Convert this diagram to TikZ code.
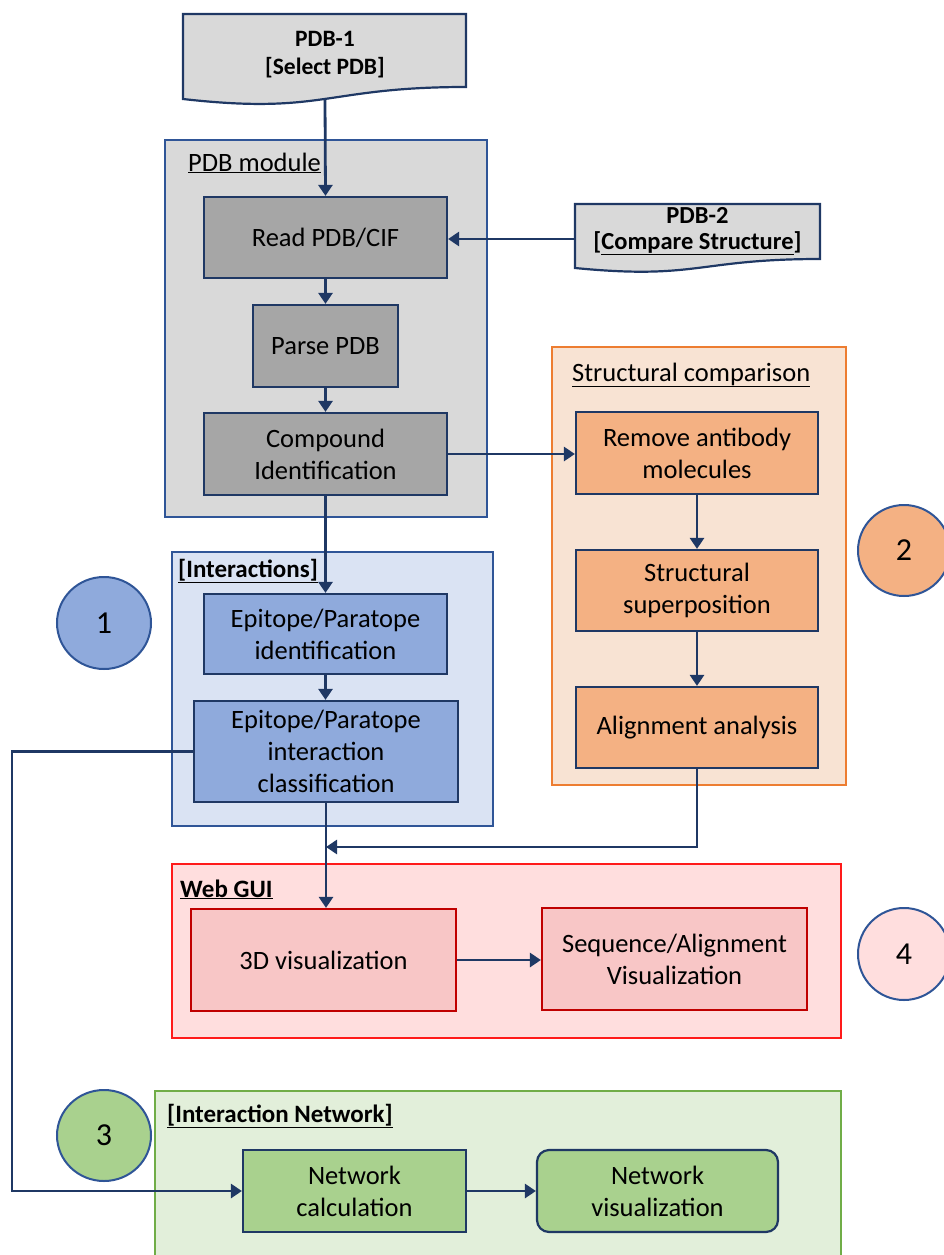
\documentclass[tikz,border=0pt]{standalone}
\usepackage{fontspec}
\setmainfont{Carlito}
\usetikzlibrary{arrows.meta,shapes.geometric}
\definecolor{navy}{HTML}{1F3864}
\definecolor{blueb}{HTML}{2F5597}
\definecolor{grayL}{HTML}{D9D9D9}
\definecolor{grayD}{HTML}{A6A6A6}
\definecolor{orgL}{HTML}{F8E3D3}
\definecolor{orgD}{HTML}{F4B183}
\definecolor{orgB}{HTML}{ED7D31}
\definecolor{bluL}{HTML}{DAE3F3}
\definecolor{bluD}{HTML}{8FAADC}
\definecolor{pnkL}{HTML}{FFDEDE}
\definecolor{pnkD}{HTML}{F8C6C6}
\definecolor{redB}{HTML}{FF1A1A}
\definecolor{redD}{HTML}{C00000}
\definecolor{grnL}{HTML}{E2EFDA}
\definecolor{grnD}{HTML}{A9D18E}
\definecolor{grnB}{HTML}{70AD47}
\newcommand\bodyfs{\fontsize{26.5}{32}\selectfont}
\newcommand\docfs{\fontsize{23.5}{28}\selectfont\bfseries}
\newcommand\docfsb{\fontsize{24.5}{26}\selectfont\bfseries}
\newcommand\numfs{\fontsize{32}{36}\selectfont}
\tikzset{
  conn/.style={draw=navy, line width=2.8pt, -{Triangle[length=11pt,width=14pt]}},
  proc/.style={draw=navy, line width=2.2pt, inner sep=0pt, align=center, font=\bodyfs},
  grp/.style={line width=2.2pt, inner sep=0pt},
  glbl/.style={anchor=base west, inner sep=0pt, font=\bodyfs},
  glblb/.style={anchor=base west, inner sep=0pt, font=\fontsize{25}{30}\selectfont\bfseries},
  num/.style={ellipse, draw=blueb, line width=2pt, inner sep=0pt, font=\numfs},
  doc/.style={draw=navy, line width=2.2pt, fill=grayL},
  doctext/.style={align=center, inner sep=0pt}
}
\begin{document}
\begin{tikzpicture}[x=1pt,y=-1pt]
\useasboundingbox (0,0) rectangle (944,1255);

% group boxes
\node[grp, draw=blueb, fill=grayL, minimum width=322, minimum height=377] (pdbmod) at (326,328.5) {};
\node[grp, draw=orgB, fill=orgL, minimum width=294, minimum height=438] (strc) at (699,566) {};
\node[grp, draw=blueb, fill=bluL, minimum width=321, minimum height=274] (inter) at (332.5,689) {};
\node[grp, draw=redB, fill=pnkL, minimum width=669, minimum height=174] (webgui) at (506.5,951) {};
\node[grp, draw=grnB, fill=grnL, minimum width=686, minimum height=179] (netw) at (498,1180.5) {};

% group labels
\node[glbl] (lpdb) at (188,171) {\underline{PDB module}};
\node[glbl] (lstr) at (572,381) {\underline{Structural comparison}};
\node[glblb] (lint) at (178,577) {\underline{[Interactions]}};
\node[glblb] (lweb) at (180,897) {\underline{Web GUI}};
\node[glblb] (lnet) at (167,1122) {\underline{[Interaction Network]}};

% documents
\draw[doc] (183,14) -- (466,14) -- (466,87) .. controls (324.5,87) and (324.5,115) .. (183,99) -- cycle;
\node[doctext, font=\docfs] (pdb1) at (325,55) {PDB-1\\{}[Select PDB]};
\coordinate (pdb1b) at (325,99);
\draw[doc] (575,204) -- (820,204) -- (820,259) .. controls (697.5,259) and (697.5,280) .. (575,268) -- cycle;
\node[doctext, font=\docfsb] (pdb2) at (697.5,231) {PDB-2\\{}[\underline{Compare Structure}]};
\coordinate (pdb2l) at (575,239);

% process boxes
\node[proc, fill=grayD, minimum width=243, minimum height=81] (read) at (325.5,237.5) {Read PDB/CIF};
\node[proc, fill=grayD, minimum width=145, minimum height=82] (parse) at (325.5,346) {Parse PDB};
\node[proc, fill=grayD, minimum width=243, minimum height=82] (comp) at (325.5,454) {Compound\\Identification};

\node[proc, fill=orgD, minimum width=242, minimum height=82] (rem) at (697,453) {Remove antibody\\molecules};
\node[proc, fill=orgD, minimum width=242, minimum height=81] (sup) at (697,590.5) {Structural\\superposition};
\node[proc, fill=orgD, minimum width=242, minimum height=81] (aln) at (697,727.5) {Alignment analysis};

\node[proc, fill=bluD, minimum width=243, minimum height=80] (epi) at (325.5,634) {Epitope/Paratope\\identification};
\node[proc, fill=bluD, minimum width=264, minimum height=101] (cls) at (326,751.5) {Epitope/Paratope\\interaction\\classification};

\node[proc, draw=redD, fill=pnkD, minimum width=265, minimum height=102] (viz) at (323.5,960) {3D visualization};
\node[proc, draw=redD, fill=pnkD, minimum width=265, minimum height=102] (seqv) at (674.5,959) {Sequence/Alignment\\Visualization};

\node[proc, fill=grnD, minimum width=223, minimum height=82] (netc) at (354.5,1191) {Network\\calculation};
\node[proc, fill=grnD, rounded corners=12pt, minimum width=241, minimum height=82] (netv) at (657.5,1191) {Network\\visualization};

% numbered circles
\node[num, fill=bluD, minimum width=94, minimum height=92] (c1) at (104,623) {1};
\node[num, fill=orgD, minimum width=92, minimum height=91] (c2) at (904,550.5) {2};
\node[num, fill=grnD, minimum width=94, minimum height=91] (c3) at (104,1135.5) {3};
\node[num, fill=pnkL, minimum width=92, minimum height=92] (c4) at (904,954) {4};

% connectors
\draw[conn] (pdb1b) -- (read.north);
\draw[conn] (pdb2l) -- (pdb2l -| read.east);
\draw[conn] (read.south) -- (parse.north);
\draw[conn] (parse.south) -- (comp.north);
\draw[conn] (comp.east) -- (comp.east -| rem.west);
\draw[conn] (comp.south) -- (epi.north);
\draw[conn] (epi.south) -- (epi.south |- cls.north);
\draw[conn] (rem.south) -- (sup.north);
\draw[conn] (sup.south) -- (aln.north);
\coordinate (mrg) at (326,847);
\draw[conn] (aln.south) |- (mrg);
\draw[conn] (cls.south) -- (cls.south |- viz.north);
\draw[conn] (viz.east) -- (viz.east -| seqv.west);
\coordinate (lft) at (12,0);
\draw[conn] (cls.west) -- (cls.west -| lft) |- (netc.west);
\draw[conn] (netc.east) -- (netv.west);
\end{tikzpicture}
\end{document}
